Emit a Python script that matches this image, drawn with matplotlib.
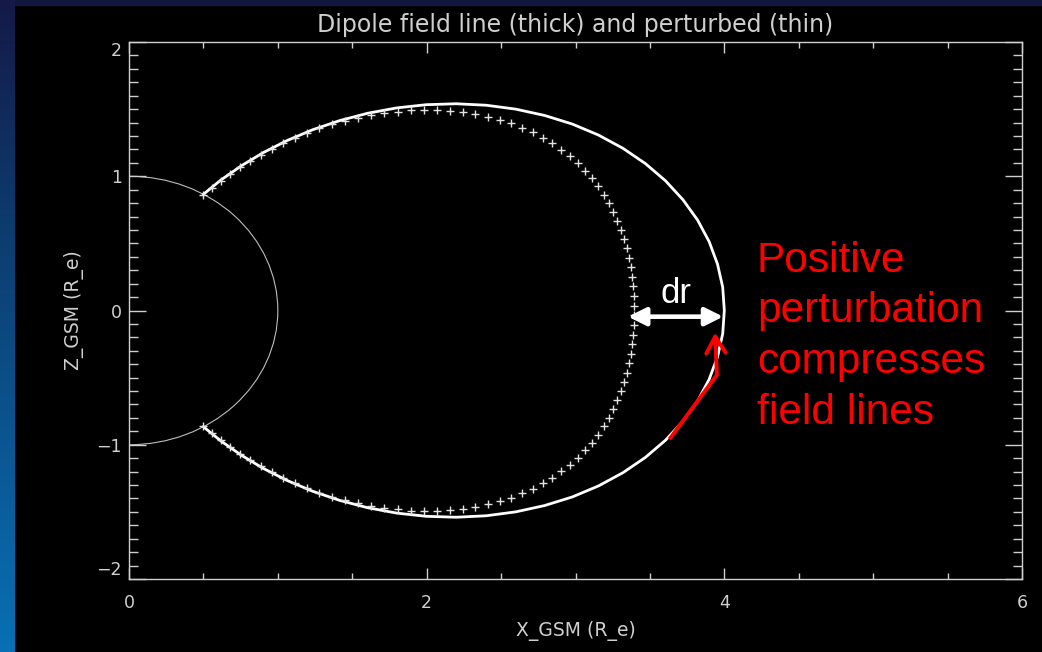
import numpy as np
import matplotlib
matplotlib.use("Agg")
import matplotlib.pyplot as plt
from matplotlib.patches import Arc, Rectangle
from matplotlib.ticker import MultipleLocator

# dipole field line (thick), north -> south
dipole_x = [0.500, 0.620, 0.755, 0.902, 1.062, 1.233, 1.414, 1.603, 1.798, 1.997,
            2.199, 2.400, 2.598, 2.792, 2.978, 3.154, 3.319, 3.470, 3.605, 3.722,
            3.820, 3.898, 3.954, 3.989, 4.000,
            3.989, 3.954, 3.898, 3.820, 3.722, 3.605, 3.470, 3.319, 3.154, 2.978,
            2.792, 2.598, 2.400, 2.199, 1.997, 1.798, 1.603, 1.414, 1.233, 1.062,
            0.902, 0.755, 0.620, 0.500]
dipole_z = [0.866, 0.974, 1.078, 1.176, 1.266, 1.346, 1.414, 1.469, 1.509, 1.533,
            1.540, 1.529, 1.500, 1.453, 1.389, 1.307, 1.208, 1.094, 0.966, 0.825,
            0.674, 0.513, 0.346, 0.174, 0.000,
            -0.174, -0.346, -0.513, -0.674, -0.825, -0.966, -1.094, -1.208, -1.307, -1.389,
            -1.453, -1.500, -1.529, -1.540, -1.533, -1.509, -1.469, -1.414, -1.346, -1.266,
            -1.176, -1.078, -0.974, -0.866]

# perturbed field line (crosses)
pert_x = [0.499, 0.555, 0.615, 0.678, 0.743, 0.812, 0.884, 0.958, 1.035, 1.114,
          1.196, 1.279, 1.364, 1.450, 1.538, 1.626, 1.716, 1.805, 1.894, 1.983,
          2.071, 2.158, 2.244, 2.328, 2.410, 2.490, 2.566, 2.641, 2.712, 2.780,
          2.844, 2.905, 2.962, 3.015, 3.064, 3.110, 3.151, 3.189, 3.224, 3.254,
          3.281, 3.305, 3.326, 3.344, 3.359, 3.371, 3.381, 3.388, 3.392, 3.395,
          3.395, 3.392, 3.388, 3.381, 3.371, 3.359, 3.344, 3.326, 3.305, 3.281,
          3.254, 3.224, 3.189, 3.151, 3.110, 3.064, 3.015, 2.962, 2.905, 2.844,
          2.780, 2.712, 2.641, 2.566, 2.490, 2.410, 2.328, 2.244, 2.158, 2.071,
          1.983, 1.894, 1.805, 1.716, 1.626, 1.538, 1.450, 1.364, 1.279, 1.196,
          1.114, 1.035, 0.958, 0.884, 0.812, 0.743, 0.678, 0.615, 0.555, 0.499]
pert_z = [0.864, 0.916, 0.968, 1.018, 1.068, 1.115, 1.161, 1.205, 1.247, 1.286,
          1.322, 1.356, 1.386, 1.413, 1.436, 1.455, 1.471, 1.482, 1.490, 1.493,
          1.491, 1.486, 1.476, 1.461, 1.443, 1.420, 1.393, 1.361, 1.326, 1.287,
          1.245, 1.199, 1.150, 1.097, 1.042, 0.985, 0.925, 0.864, 0.800, 0.735,
          0.669, 0.601, 0.532, 0.463, 0.393, 0.322, 0.251, 0.179, 0.108, 0.036,
          -0.036, -0.108, -0.179, -0.251, -0.322, -0.393, -0.463, -0.532, -0.601, -0.669,
          -0.735, -0.800, -0.864, -0.925, -0.985, -1.042, -1.097, -1.150, -1.199, -1.245,
          -1.287, -1.326, -1.361, -1.393, -1.420, -1.443, -1.461, -1.476, -1.486, -1.491,
          -1.493, -1.490, -1.482, -1.471, -1.455, -1.436, -1.413, -1.386, -1.356, -1.322,
          -1.286, -1.247, -1.205, -1.161, -1.115, -1.068, -1.018, -0.968, -0.916, -0.864]

earth_radius = 1.0
x_ticks = [0, 2, 4, 6]
y_ticks = [-2, -1, 0, 1, 2]

note_lines = ["Positive", "perturbation", "compresses", "field lines"]

W, H = 1042, 652
fg = "#cfcfcf"

fig = plt.figure(figsize=(W / 100, H / 100), dpi=100, facecolor="black")

# slide background: blue strip on the left, navy strip on top
stops_y = [0, 220, 470, 652]
stops_c = np.array([[0.08, 0.10, 0.28], [0.05, 0.23, 0.43],
                    [0.04, 0.35, 0.59], [0.03, 0.44, 0.71]])
rows = np.arange(H)
grad = np.stack([np.interp(rows, stops_y, stops_c[:, i]) for i in range(3)], axis=1)
grad = np.repeat(grad[:, None, :], 15, axis=1)
fig.figimage(grad, xo=0, yo=0, origin="upper", zorder=0)
fig.add_artist(Rectangle((0, 1 - 5 / H), 1, 5 / H, transform=fig.transFigure,
                         color="#12173f", zorder=0))

ax = fig.add_axes([129 / W, 1 - 579 / H, (1022 - 129) / W, (579 - 42) / H])
ax.set_facecolor("black")

# earth
ax.add_patch(Arc((0, 0), 2 * earth_radius, 2 * earth_radius, theta1=-90, theta2=90,
                 color="#bdbdbd", lw=0.8))
ax.plot(dipole_x, dipole_z, color="white", lw=2.0)
ax.plot(pert_x, pert_z, ls="none", marker="+", ms=5.5, mew=1.0, color="#e2e2e2")

ax.set_xlim(0, 6)
ax.set_ylim(-2, 2)
ax.set_xticks(x_ticks)
ax.set_yticks(y_ticks)
ax.xaxis.set_minor_locator(MultipleLocator(0.5))
ax.yaxis.set_minor_locator(MultipleLocator(0.1))
ax.tick_params(which="both", direction="in", top=True, right=True,
               colors=fg, width=1)
ax.tick_params(axis="x", which="major", length=8, pad=11, labelsize=12.5)
ax.tick_params(axis="x", which="minor", length=4)
ax.tick_params(axis="y", which="major", length=12.5, pad=5, labelsize=12.5)
ax.tick_params(axis="y", which="minor", length=6.5)
ylabels = ax.get_yticklabels()
ylabels[0].set_va("bottom")
ylabels[-1].set_va("top")
for s in ax.spines.values():
    s.set_color(fg)
    s.set_linewidth(1)

ax.set_title("Dipole field line (thick) and perturbed (thin)", color=fg,
             fontsize=17, pad=7)
ax.set_xlabel("X_GSM (R_e)", color=fg, fontsize=13.5, labelpad=6)
ax.set_ylabel("Z_GSM (R_e)", color=fg, fontsize=13.5, labelpad=9)

# dr arrow
ax.annotate("", xy=(3.992, -0.046), xytext=(3.353, -0.046),
            arrowprops=dict(arrowstyle="<|-|>", color="white", lw=3.3,
                            mutation_scale=27, shrinkA=0, shrinkB=0))
ax.text(3.676, 0.054, "dr", color="white", fontsize=25, family="Liberation Sans",
        ha="center", va="baseline")

# red arrow
ax.plot([3.631, 3.950], [-0.959, -0.480], color="red", lw=2.8, solid_capstyle="butt")
ax.annotate("", xy=(3.938, -0.165), xytext=(3.950, -0.480),
            arrowprops=dict(arrowstyle="->,head_length=0.6,head_width=0.35",
                            color="red", lw=2.8, mutation_scale=20,
                            shrinkA=0, shrinkB=0))

baselines = [271.7, 322.0, 372.5, 423.5]
for line, yb in zip(note_lines, baselines):
    fig.text(757 / W, 1 - yb / H, line, color="red", fontsize=30.5,
             family="Liberation Sans", va="baseline", ha="left")

fig.savefig("out.png", dpi=100, facecolor="black")
